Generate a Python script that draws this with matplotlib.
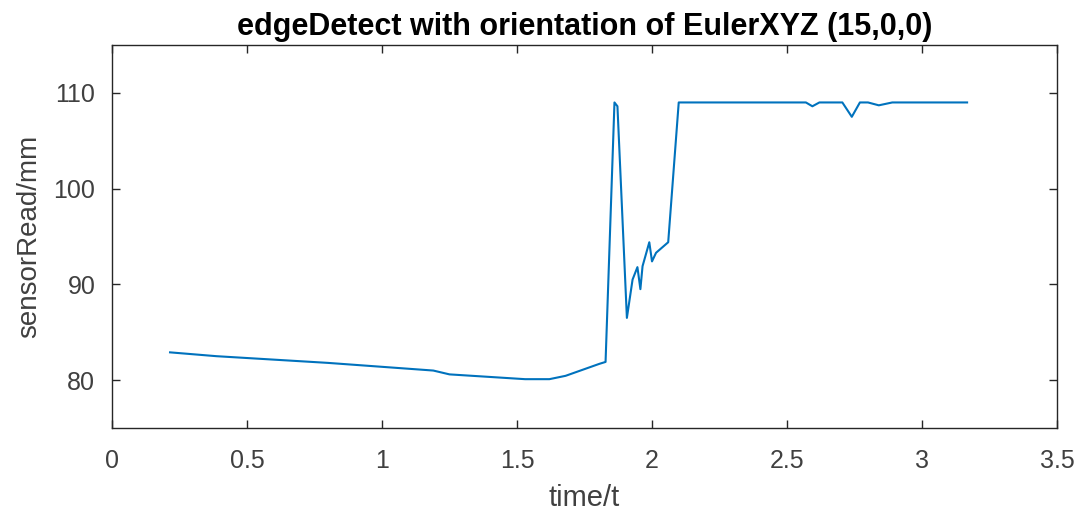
import numpy as np
import matplotlib
matplotlib.use('Agg')
import matplotlib.pyplot as plt

# sensor readings
t = [0.215, 0.387, 0.8, 1.19, 1.25, 1.53, 1.62, 1.68, 1.805, 1.828,
     1.861, 1.872, 1.907, 1.928, 1.946, 1.957, 1.965, 1.99, 2.0, 2.015,
     2.06, 2.099, 2.57, 2.594, 2.62, 2.705, 2.74, 2.77, 2.80, 2.84, 2.89, 3.167]
sensor = [82.9, 82.5, 81.8, 81.0, 80.6, 80.1, 80.1, 80.45, 81.7, 81.9,
          109.0, 108.6, 86.5, 90.5, 91.8, 89.5, 91.9, 94.4, 92.4, 93.3,
          94.4, 109.0, 109.0, 108.6, 109.0, 109.0, 107.5, 109.0, 109.0, 108.7, 109.0, 109.0]

plt.rcParams['font.family'] = ['Liberation Sans', 'DejaVu Sans']

fig = plt.figure(figsize=(10.79, 5.23), dpi=100)
ax = fig.add_axes([112/1079, 1-428/523, (1057-112)/1079, (428-45)/523])

ax.plot(t, sensor, color='#0072BD', linewidth=1.5)

ax.set_xlim(0, 3.5)
ax.set_ylim(75, 115)
ax.set_xticks(np.arange(0, 3.51, 0.5))
ax.set_xticklabels(['0', '0.5', '1', '1.5', '2', '2.5', '3', '3.5'])
ax.set_yticks([80, 90, 100, 110])
ax.tick_params(direction='in', top=True, right=True, length=6, width=1,
               color='#262626', labelcolor='#404040', labelsize=18)
ax.tick_params(axis='x', pad=15)
ax.tick_params(axis='y', pad=12)
for s in ax.spines.values():
    s.set_color('#262626')
    s.set_linewidth(1)

ax.set_xlabel('time/t', fontsize=21, color='#404040', labelpad=8)
ax.set_ylabel('sensorRead/mm', fontsize=20, color='#404040', labelpad=8)
ax.set_title('edgeDetect with orientation of EulerXYZ (15,0,0)', fontsize=22,
             fontweight='bold', pad=7)

fig.savefig('out.png', dpi=100)
